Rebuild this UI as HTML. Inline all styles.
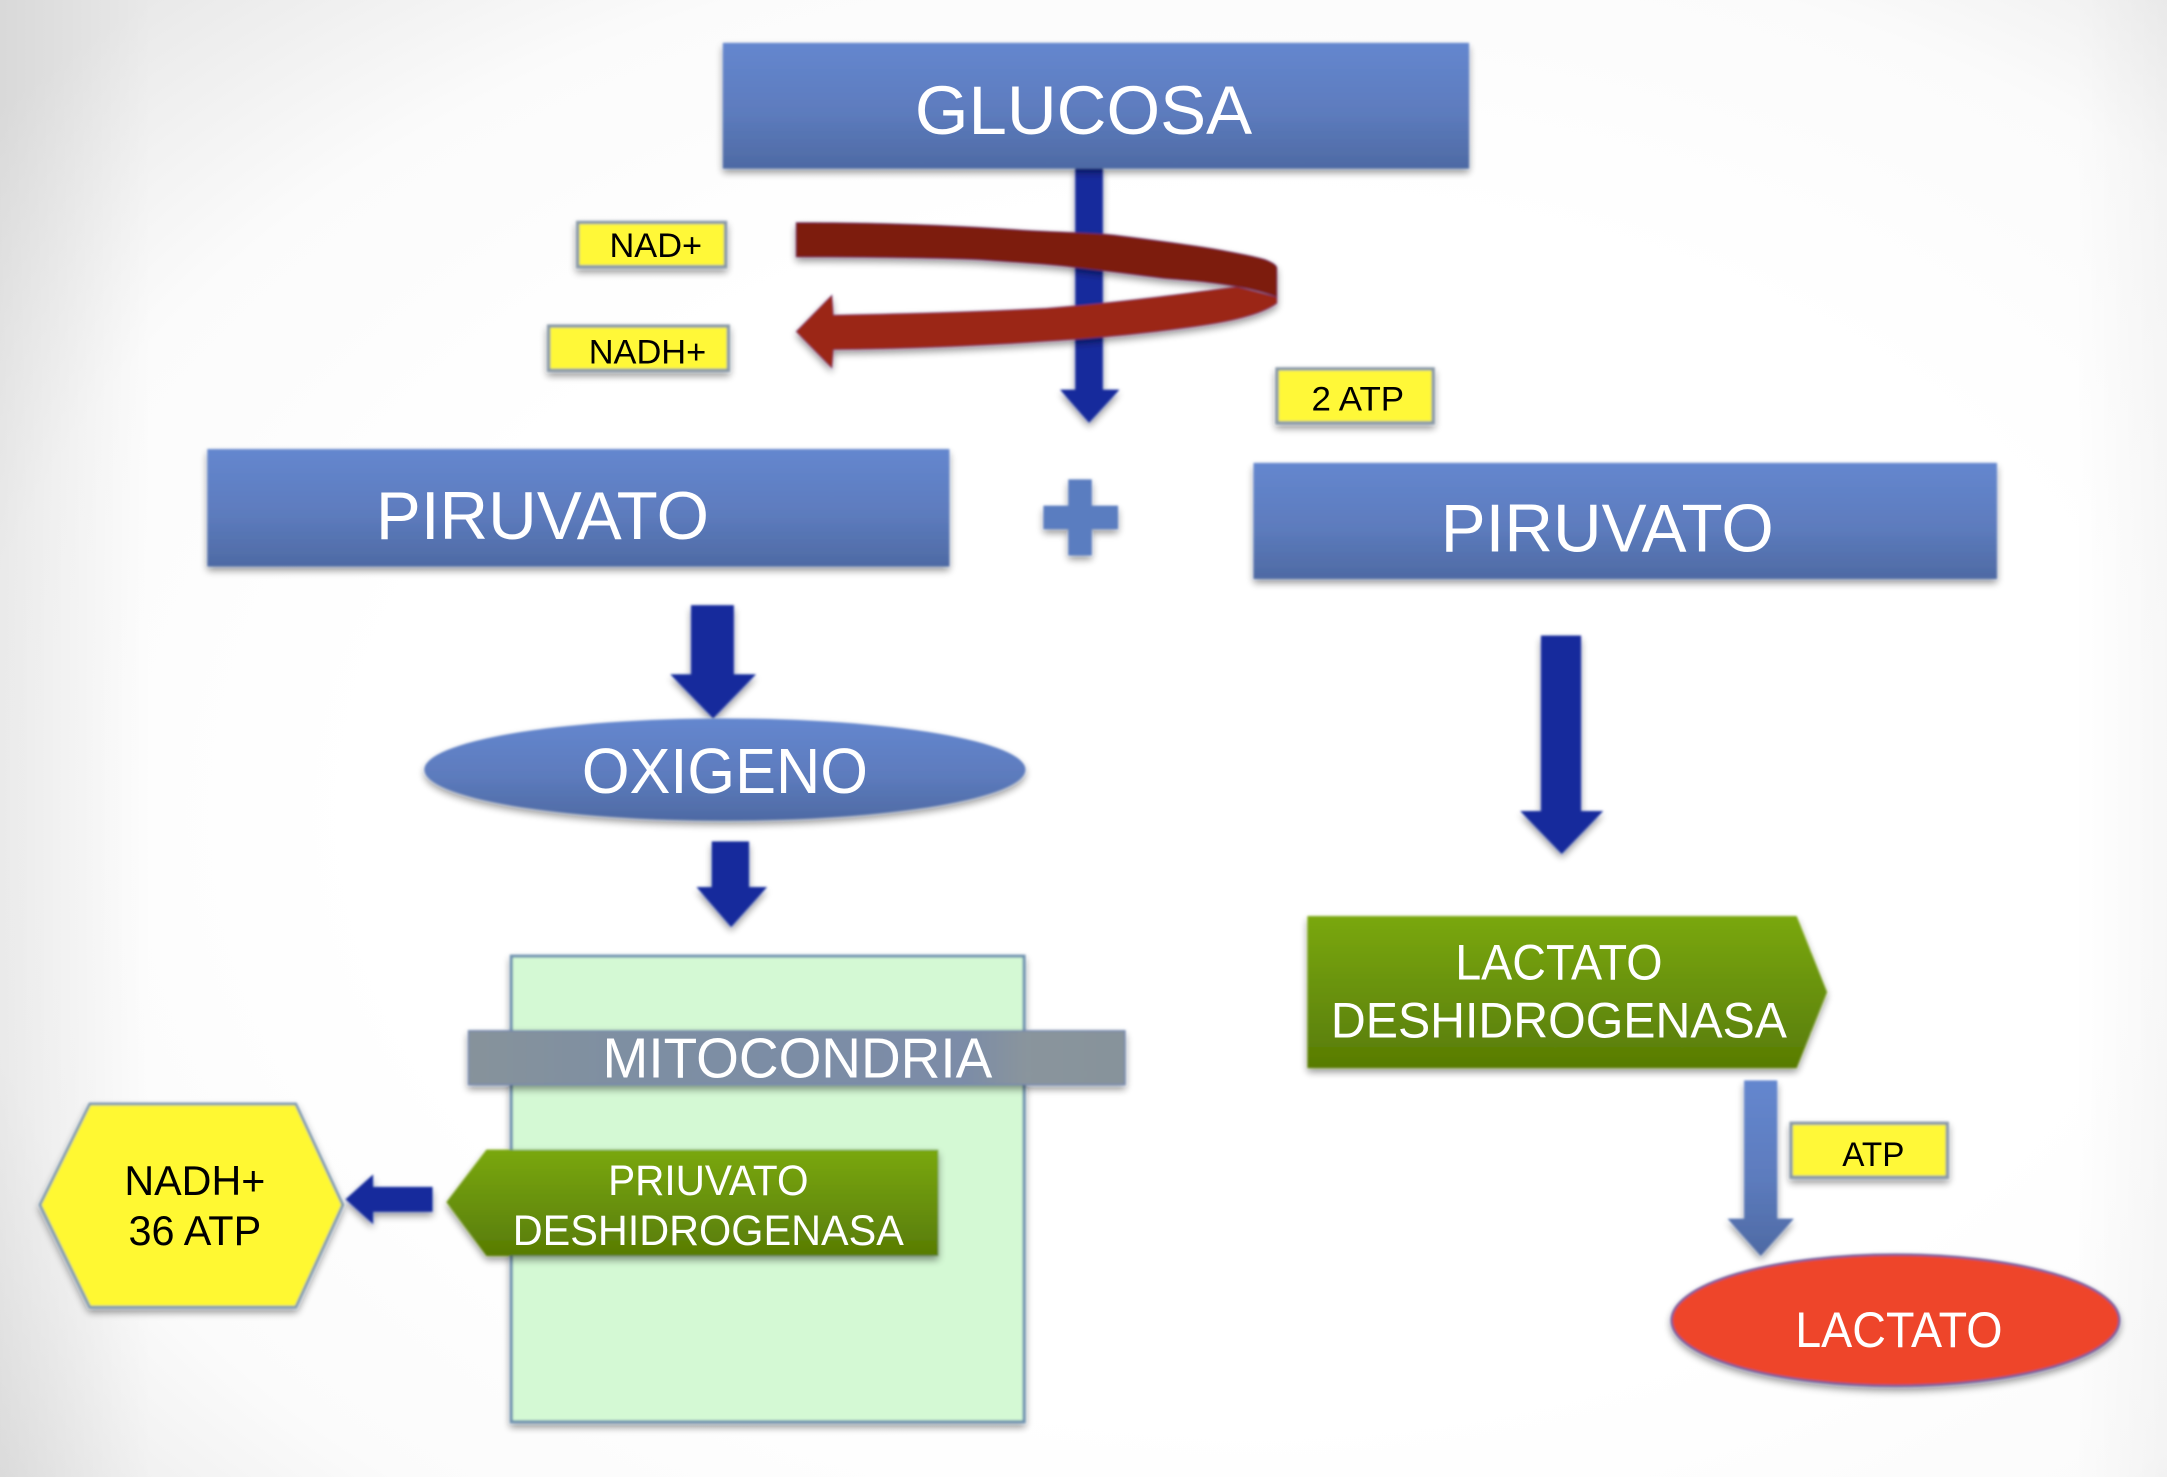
<!DOCTYPE html>
<html><head><meta charset="utf-8"><style>
html,body{margin:0;padding:0;background:#fff}
svg{display:block}
text{font-family:"Liberation Sans",Arial,sans-serif;text-anchor:middle}
.w{fill:#fff}.k{fill:#000}
</style></head><body>
<svg xmlns="http://www.w3.org/2000/svg" width="2167" height="1477" viewBox="0 0 1568 1069" preserveAspectRatio="none">
<defs>
<radialGradient id="bg" cx="58%" cy="55%" r="75%"><stop offset="0.55" stop-color="#fff"/><stop offset="0.8" stop-color="#fbfbfb"/><stop offset="1" stop-color="#e9e9e9"/></radialGradient>
<linearGradient id="left" x1="0" y1="0" x2="1" y2="0"><stop offset="0" stop-color="#000" stop-opacity="0.07"/><stop offset="1" stop-color="#000" stop-opacity="0"/></linearGradient>
<linearGradient id="right" x1="0" y1="0" x2="1" y2="0"><stop offset="0" stop-color="#000" stop-opacity="0"/><stop offset="1" stop-color="#000" stop-opacity="0.03"/></linearGradient>
<linearGradient id="blue" x1="0" y1="0" x2="0" y2="1"><stop offset="0" stop-color="#6587cf"/><stop offset="0.55" stop-color="#5d7cbe"/><stop offset="1" stop-color="#4e6aa4"/></linearGradient>
<linearGradient id="green" x1="0" y1="0" x2="0" y2="1"><stop offset="0" stop-color="#7aa811"/><stop offset="1" stop-color="#587c05"/></linearGradient>
<linearGradient id="gray" x1="0" y1="0" x2="1" y2="0"><stop offset="0" stop-color="#87939b"/><stop offset="0.25" stop-color="#7e8fa3"/><stop offset="0.75" stop-color="#7b8ca8"/><stop offset="0.85" stop-color="#8a959d"/><stop offset="1" stop-color="#87939b"/></linearGradient>
<filter id="s" x="-10%" y="-20%" width="120%" height="150%"><feGaussianBlur in="SourceAlpha" stdDeviation="2.6"/><feOffset dy="3"/><feComponentTransfer><feFuncA type="linear" slope="0.42"/></feComponentTransfer><feMerge><feMergeNode/><feMergeNode in="SourceGraphic"/></feMerge></filter>
<filter id="b" x="-5%" y="-10%" width="110%" height="120%"><feGaussianBlur stdDeviation="0.7"/></filter>
<filter id="t" x="-5%" y="-10%" width="110%" height="120%"><feGaussianBlur stdDeviation="0.22"/></filter>
</defs>
<rect width="1568" height="1069" fill="url(#bg)"/>
<rect width="110" height="1069" fill="url(#left)"/>
<rect x="1500" width="68" height="1069" fill="url(#right)"/>
<g filter="url(#b)">
<!-- glucose arrow -->
<path d="M778 120H798V282H810L788 306L767 282H778Z" fill="#12299c" filter="url(#s)"/>
<rect x="523" y="31" width="540" height="91" fill="url(#blue)" filter="url(#s)"/>
<!-- red curved arrow -->
<g filter="url(#s)" stroke="#5a3a8a" stroke-width="0.6" stroke-opacity="0.55">
<path d="M895 207.500C860 212 810 219 757 223C700 226 650 227 603 228L602 213.500L576 240L602 266.500L603 253C650 252.500 700 251 757 247C800 244.500 830 241 860 237C890 233 912 228 924 219.500L924 215Z" fill="#9b2615"/>
<path d="M576 161C640 161 690 163 733 166C760 168 785 168 806 170C830 173 860 177 878 180C895 183 910 186 916 188C921 190 924 192 924 194V215C916 212 905 209 895 207.500C875 204 860 203 842 201.500C822 199 800 196 781 194C760 191 735 190 709 188C670 186.500 620 186 576 186Z" fill="#7d1f10"/>
</g>
<!-- yellow labels -->
<g fill="#fff838" stroke="#8a9aa8" stroke-width="2.400" filter="url(#s)">
<rect x="418" y="161" width="107" height="32"/>
<rect x="397" y="236" width="130" height="32"/>
<rect x="924" y="267" width="113" height="39"/>
<rect x="1296" y="813" width="113" height="39"/>
</g>
<!-- pyruvate -->
<rect x="150" y="325" width="537" height="85" fill="url(#blue)" filter="url(#s)"/>
<rect x="907" y="335" width="538" height="84" fill="url(#blue)" filter="url(#s)"/>
<!-- plus -->
<path d="M773 347H790V366H809V383H790V402H773V383H755V366H773Z" fill="#5a7dc0" filter="url(#s)"/>
<!-- arrows -->
<path d="M500 438H531V488H547L516 520L485 488H500Z" fill="#12299c" filter="url(#s)"/>
<path d="M1115 460H1144V587H1160L1130 618L1100 587H1115Z" fill="#12299c" filter="url(#s)"/>
<path d="M515 609H542V642H555L529 671L504 642H515Z" fill="#12299c" filter="url(#s)"/>
<!-- oxygen -->
<ellipse cx="524.500" cy="557" rx="217.500" ry="37" fill="url(#blue)" filter="url(#s)"/>
<!-- mitochondria -->
<rect x="370" y="692" width="371" height="337" fill="#d4f9d4" stroke="#6f93b0" stroke-width="2.200" filter="url(#s)"/>
<rect x="339" y="746" width="475" height="39" fill="url(#gray)" stroke="#7488b0" stroke-width="1" filter="url(#s)"/>
<path d="M323 870L352 832H679V909H352Z" fill="url(#green)" filter="url(#s)"/>
<!-- hexagon -->
<path d="M29 872L65 799H214L248 872L214 946H65Z" fill="#fff830" stroke="#7f9ab0" stroke-width="2" filter="url(#s)"/>
<path d="M313 859V877H270V886L250 868L270 850V859Z" fill="#12299c" filter="url(#s)"/>
<!-- right column -->
<path d="M946 663H1300L1322 718L1300 773H946Z" fill="url(#green)" filter="url(#s)"/>
<path d="M1262 782H1286V882H1298L1274 909L1250 882H1262Z" fill="url(#blue)" filter="url(#s)"/>
<ellipse cx="1371.500" cy="955.500" rx="162" ry="47.500" fill="#ee452c" stroke="#6f5c9c" stroke-width="1.600" filter="url(#s)"/>
</g>
<g filter="url(#t)">
<text class="w" x="784" y="97" font-size="50" textLength="244" lengthAdjust="spacingAndGlyphs">GLUCOSA</text>
<text class="k" x="474.500" y="186" font-size="25" textLength="67" lengthAdjust="spacingAndGlyphs">NAD+</text>
<text class="k" x="468.500" y="263" font-size="25" textLength="85" lengthAdjust="spacingAndGlyphs">NADH+</text>
<text class="k" x="982.500" y="297" font-size="25" textLength="67" lengthAdjust="spacingAndGlyphs">2 ATP</text>
<text class="k" x="1355.500" y="844" font-size="25" textLength="45" lengthAdjust="spacingAndGlyphs">ATP</text>
<text class="w" x="392.500" y="390" font-size="49" textLength="241" lengthAdjust="spacingAndGlyphs">PIRUVATO</text>
<text class="w" x="1163" y="399" font-size="49" textLength="241" lengthAdjust="spacingAndGlyphs">PIRUVATO</text>
<text class="w" x="524.500" y="574" font-size="46" textLength="207" lengthAdjust="spacingAndGlyphs">OXIGENO</text>
<text class="w" x="577" y="780" font-size="41" textLength="282" lengthAdjust="spacingAndGlyphs">MITOCONDRIA</text>
<text class="w" x="512.500" y="865" font-size="31" textLength="145" lengthAdjust="spacingAndGlyphs">PRIUVATO</text>
<text class="w" x="512.500" y="901" font-size="31" textLength="283" lengthAdjust="spacingAndGlyphs">DESHIDROGENASA</text>
<text class="k" x="141" y="865" font-size="30" textLength="102" lengthAdjust="spacingAndGlyphs">NADH+</text>
<text class="k" x="141" y="901" font-size="30" textLength="96" lengthAdjust="spacingAndGlyphs">36 ATP</text>
<text class="w" x="1128" y="709" font-size="36" textLength="150" lengthAdjust="spacingAndGlyphs">LACTATO</text>
<text class="w" x="1128" y="751" font-size="36" textLength="330" lengthAdjust="spacingAndGlyphs">DESHIDROGENASA</text>
<text class="w" x="1374" y="975" font-size="36" textLength="150" lengthAdjust="spacingAndGlyphs">LACTATO</text>
</g>
</svg>
</body></html>
